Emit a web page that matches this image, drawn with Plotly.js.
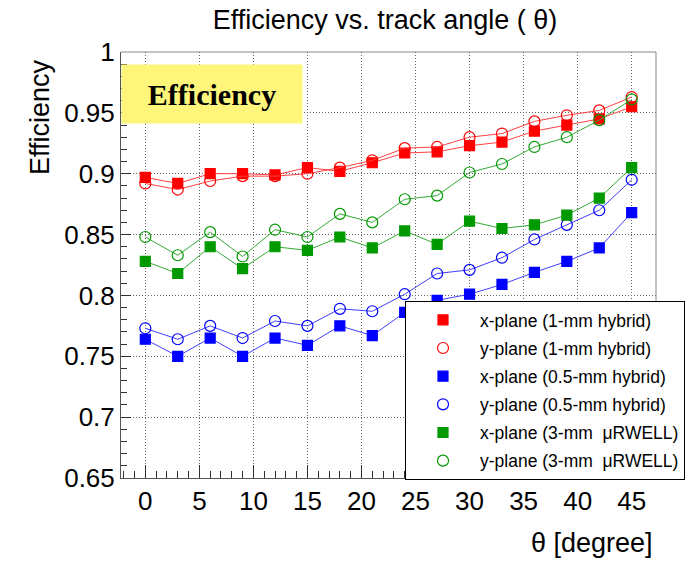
<!DOCTYPE html>
<html>
<head>
<meta charset="utf-8">
<script src="https://cdn.plot.ly/plotly-3.0.1.min.js"></script>
<style>html,body{margin:0;padding:0;background:#fff;}#chart{width:692px;height:570px;}</style>
</head>
<body>
<div id="chart"></div>
<script>
const theta = [0,3,6,9,12,15,18,21,24,27,30,33,36,39,42,45];

const xPlane1mm   = [0.897,0.892,0.900,0.900,0.899,0.905,0.902,0.909,0.917,0.918,0.923,0.926,0.935,0.940,0.945,0.955];
const yPlane1mm   = [0.892,0.887,0.894,0.898,0.898,0.900,0.905,0.911,0.921,0.922,0.930,0.933,0.943,0.948,0.952,0.963];
const xPlane05mm  = [0.764,0.750,0.765,0.750,0.765,0.759,0.775,0.767,0.786,0.796,0.801,0.809,0.819,0.828,0.839,0.868];
const yPlane05mm  = [0.773,0.764,0.775,0.765,0.779,0.775,0.789,0.787,0.801,0.818,0.821,0.831,0.846,0.858,0.870,0.895];
const xPlane3mm   = [0.828,0.818,0.840,0.822,0.840,0.837,0.848,0.839,0.853,0.842,0.861,0.855,0.858,0.866,0.880,0.905];
const yPlane3mm   = [0.848,0.833,0.852,0.832,0.854,0.848,0.867,0.860,0.879,0.882,0.901,0.908,0.922,0.930,0.944,0.961];

const seriesNames = [
  "x-plane (1-mm hybrid)",
  "y-plane (1-mm hybrid)",
  "x-plane (0.5-mm hybrid)",
  "y-plane (0.5-mm hybrid)",
  "x-plane (3-mm\u00a0 \u03bcRWELL)",
  "y-plane (3-mm\u00a0 \u03bcRWELL)"
];
const seriesValues = [xPlane1mm, yPlane1mm, xPlane05mm, yPlane05mm, xPlane3mm, yPlane3mm];

const chartTitle = "Efficiency vs. track angle ( \u03b8)";
const xTitle = "\u03b8 [degree]";
const yTitle = "Efficiency";
const boxLabel = "Efficiency";

const colors = ["#ff0000","#ff0000","#0000ff","#0000ff","#009900","#009900"];
const lineColors = ["#ff4040","#ff4040","#4040ff","#4040ff","#33aa33","#33aa33"];
const symbols = ["square","circle-open","square","circle-open","square","circle-open"];

const traces = [];
seriesValues.forEach((vals, i) => {
  traces.push({
    x: theta, y: vals, type: "scatter", mode: "lines",
    line: {color: lineColors[i], width: 1},
    showlegend: false, hoverinfo: "skip"
  });
  traces.push({
    x: theta, y: vals, type: "scatter", mode: "markers",
    name: seriesNames[i], legendgroup: "g" + i,
    marker: {symbol: symbols[i], color: colors[i], size: symbols[i] === "square" ? 10 : 11,
             line: {color: colors[i], width: 1.2}}
  });
});

const L = 121, R = 656, T = 52, B = 478, W = 692, H = 570;
const pw = R - L, ph = B - T;
const px = v => (v - L) / pw;
const py = v => (B - v) / ph;

const layout = {
  width: W, height: H,
  margin: {l: L, r: W - R, t: T, b: H - B, autoexpand: false},
  paper_bgcolor: "#fff", plot_bgcolor: "#fff",
  font: {family: "Liberation Sans, Arial, sans-serif", color: "#000"},
  title: {text: chartTitle, font: {size: 27, color: "#000"}, xref: "container", yref: "container",
          x: 385 / W, y: 1 - 20 / H, xanchor: "center", yanchor: "middle"},
  xaxis: {
    range: [-2.25, 47.25], tick0: 0, dtick: 5, zeroline: false,
    showline: true, linecolor: "#555", linewidth: 1,
    ticks: "inside", ticklen: 13, tickcolor: "#333", tickwidth: 1,
    tickfont: {size: 26, color: "#000"},
    showgrid: true, gridcolor: "#666", griddash: "1px,2px", gridwidth: 1,
    minor: {dtick: 1, tick0: 0, ticks: "inside", ticklen: 7, tickcolor: "#333", showgrid: false}
  },
  yaxis: {
    range: [0.65, 1], tick0: 0.65, dtick: 0.05, zeroline: false,
    showline: true, linecolor: "#555", linewidth: 1,
    ticks: "inside", ticklen: 10, tickcolor: "#333", tickwidth: 1,
    tickfont: {size: 26, color: "#000"},
    showgrid: true, gridcolor: "#666", griddash: "1px,2px", gridwidth: 1,
    minor: {dtick: 0.01, tick0: 0.65, ticks: "inside", ticklen: 6, tickcolor: "#333", showgrid: false}
  },
  shapes: [
    {type: "line", xref: "paper", yref: "paper", x0: 0, x1: 1, y0: 1, y1: 1, line: {color: "#888", width: 1}},
    {type: "line", xref: "paper", yref: "paper", x0: 1, x1: 1, y0: 0, y1: 1, line: {color: "#888", width: 1}}
  ],
  annotations: [
    {text: "<b>" + boxLabel + "</b>", xref: "paper", yref: "paper", x: px(212), y: py(94),
     xanchor: "center", yanchor: "middle", showarrow: false, width: 180, height: 58, borderpad: 0,
     bgcolor: "#fdf67a", font: {family: "Liberation Serif, Times New Roman, serif", size: 30, color: "#000"}},
    {text: yTitle, xref: "paper", yref: "paper", x: px(40), y: py(117), textangle: -90,
     xanchor: "center", yanchor: "middle", showarrow: false, font: {size: 27, color: "#000"}},
    {text: xTitle, xref: "paper", yref: "paper", x: px(655), y: py(543),
     xanchor: "right", yanchor: "middle", showarrow: false, font: {size: 27, color: "#000"}}
  ],
  legend: {
    x: px(405), y: py(301), xanchor: "left", yanchor: "top",
    bgcolor: "#fff", bordercolor: "#000", borderwidth: 1,
    font: {size: 17.5, color: "#000"}, itemwidth: 64, tracegroupgap: 2.4,
    itemsizing: "trace"
  },
  showlegend: true
};

Plotly.newPlot("chart", traces, layout, {displayModeBar: false, staticPlot: true});
</script>
</body>
</html>
